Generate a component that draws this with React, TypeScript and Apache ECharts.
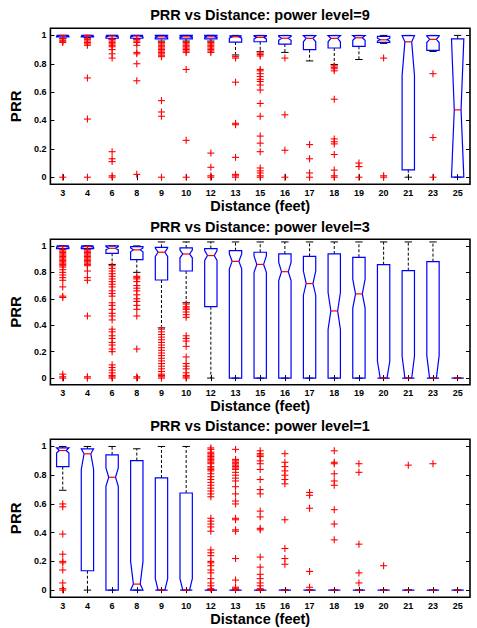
import React, { useEffect, useRef } from 'react';
import * as echarts from 'echarts';

const categories = ['3', '4', '6', '8', '9', '10', '12', '13', '15', '16', '17', '18', '19', '20', '21', '23', '25'];

const panelTitles = [
  'PRR vs Distance: power level=9',
  'PRR vs Distance: power level=3',
  'PRR vs Distance: power level=1',
];

// Box stats per category: [lowerWhisker, q1, notchLow, median, notchHigh, q3, upperWhisker]
const boxesPower9 = [
  [0.98, 0.99, 0.995, 1.0, 1.0, 1.0, 1.0],
  [0.985, 0.99, 0.995, 1.0, 1.0, 1.0, 1.0],
  [0.975, 0.98, 0.99, 0.995, 1.0, 1.0, 1.0],
  [0.975, 0.98, 0.99, 0.995, 1.0, 1.0, 1.0],
  [0.96, 0.975, 0.985, 0.99, 0.995, 1.0, 1.0],
  [0.96, 0.975, 0.985, 0.99, 0.995, 1.0, 1.0],
  [0.96, 0.975, 0.985, 0.99, 0.995, 1.0, 1.0],
  [0.862, 0.953, 0.98, 0.99, 0.996, 0.996, 1.0],
  [0.885, 0.955, 0.975, 0.986, 0.995, 0.998, 1.0],
  [0.88, 0.939, 0.965, 0.98, 0.993, 0.998, 1.0],
  [0.82, 0.899, 0.955, 0.979, 0.998, 0.998, 1.0],
  [0.795, 0.911, 0.955, 0.979, 0.998, 0.998, 1.0],
  [0.83, 0.923, 0.965, 0.983, 0.998, 0.998, 1.0],
  [0.944, 0.951, 0.96, 0.969, 0.98, 0.993, 1.0],
  [0.0, 0.052, 0.72, 0.955, 0.998, 0.998, 1.0],
  [0.887, 0.894, 0.95, 0.972, 0.995, 0.998, 1.0],
  [0.0, 0.0, 0.0, 0.475, 0.976, 0.976, 1.0],
];

const outliersPower9 = [
  [0.975, 0.965, 0.955, 0.95, 0],
  [0.98, 0.97, 0.96, 0.95, 0.94, 0.93, 0.7, 0.41, 0],
  [0.97, 0.96, 0.95, 0.94, 0.93, 0.92, 0.9, 0.87, 0.84, 0.18, 0.13, 0.11, 0.01, 0],
  [0.97, 0.96, 0.95, 0.93, 0.88, 0.87, 0.8, 0.68, 0.02],
  [0.95, 0.94, 0.93, 0.92, 0.91, 0.9, 0.89, 0.88, 0.87, 0.86, 0.85, 0.54, 0.46, 0.43, 0],
  [0.95, 0.94, 0.93, 0.92, 0.91, 0.9, 0.89, 0.88, 0.76, 0.26, 0],
  [0.95, 0.94, 0.93, 0.92, 0.91, 0.9, 0.89, 0.88, 0.17, 0.07, 0.01, 0],
  [0.85, 0.84, 0.67, 0.38, 0.37, 0.14, 0.02, 0.01, 0],
  [0.875, 0.865, 0.855, 0.76, 0.75, 0.73, 0.71, 0.69, 0.675, 0.65, 0.615, 0.52, 0.43, 0.29, 0.24, 0.18, 0.065, 0.045, 0.03, 0.01, 0],
  [0.84, 0.44, 0.19, 0],
  [0.23, 0.13, 0.03, 0],
  [0.785, 0.775, 0.765, 0.75, 0.55, 0.27, 0.25, 0.235, 0.16, 0.05, 0.01, 0],
  [0.1, 0.075, 0],
  [0.84, 0.01, 0],
  [],
  [0.73, 0.28, 0],
  [],
];

const boxesPower3 = [
  [0.975, 0.98, 0.99, 0.995, 1.0, 1.0, 1.0],
  [0.975, 0.98, 0.99, 0.995, 1.0, 1.0, 1.0],
  [0.86, 0.944, 0.97, 0.982, 0.995, 1.0, 1.0],
  [0.8, 0.896, 0.955, 0.97, 0.985, 0.995, 1.0],
  [0.38, 0.742, 0.92, 0.952, 0.984, 0.989, 1.03],
  [0.57, 0.81, 0.91, 0.939, 0.968, 0.985, 1.03],
  [0, 0.54, 0.89, 0.927, 0.965, 0.98, 1.03],
  [0, 0, 0.826, 0.883, 0.94, 0.964, 1.03],
  [0, 0, 0.8, 0.86, 0.925, 0.952, 1.03],
  [0, 0, 0.737, 0.805, 0.876, 0.939, 1.03],
  [0, 0, 0.627, 0.715, 0.81, 0.921, 1.03],
  [0, 0, 0.368, 0.508, 0.647, 0.939, 1.03],
  [0, 0, 0.53, 0.637, 0.749, 0.914, 1.03],
  [0, 0, 0, 0, 0.127, 0.858, 1.03],
  [0, 0, 0, 0, 0.165, 0.813, 1.03],
  [0, 0, 0, 0, 0.17, 0.881, 1.03],
  [0, 0, 0, 0, 0, 0, 0],
];

const outliersPower3 = [
  [0.97, 0.96, 0.95, 0.94, 0.93, 0.92, 0.91, 0.9, 0.89, 0.88, 0.87, 0.86, 0.85, 0.84, 0.82, 0.8, 0.78, 0.76, 0.74, 0.69, 0.62, 0.61, 0.03, 0.01, 0],
  [0.97, 0.96, 0.95, 0.94, 0.93, 0.92, 0.91, 0.9, 0.89, 0.88, 0.87, 0.86, 0.85, 0.81, 0.76, 0.74, 0.47, 0.01, 0],
  [0.85, 0.83, 0.81, 0.79, 0.77, 0.75, 0.73, 0.71, 0.69, 0.66, 0.64, 0.62, 0.57, 0.55, 0.52, 0.49, 0.47, 0.44, 0.37, 0.35, 0.32, 0.3, 0.27, 0.25, 0.22, 0.2, 0.1, 0.08, 0.06, 0.04, 0.02, 0.01, 0],
  [0.77, 0.76, 0.75, 0.73, 0.7, 0.68, 0.66, 0.63, 0.6, 0.58, 0.55, 0.52, 0.47, 0.22, 0.01, 0],
  [0.37, 0.35, 0.33, 0.31, 0.29, 0.27, 0.25, 0.23, 0.21, 0.19, 0.17, 0.15, 0.13, 0.11, 0.09, 0.07, 0.05, 0.03, 0.02, 0.01, 0],
  [0.56, 0.54, 0.53, 0.52, 0.5, 0.48, 0.46, 0.32, 0.3, 0.28, 0.24, 0.16, 0.11, 0.09, 0.07, 0.04, 0.02, 0.01, 0],
  [], [], [], [], [], [], [], [], [], [], [],
];

const boxesPower1 = [
  [0.695, 0.86, 0.955, 0.972, 0.99, 0.99, 1.0],
  [0, 0.135, 0.84, 0.949, 0.984, 0.984, 1.0],
  [0, 0, 0.723, 0.786, 0.851, 0.942, 1.0],
  [0, 0, 0, 0.042, 0.198, 0.902, 0.984],
  [0, 0, 0, 0, 0.08, 0.781, 1.0],
  [0, 0, 0, 0, 0.08, 0.676, 1.0],
  [0, 0, 0, 0, 0, 0, 0],
  [0, 0, 0, 0, 0, 0, 0],
  [0, 0, 0, 0, 0, 0, 0],
  [0, 0, 0, 0, 0, 0, 0],
  [0, 0, 0, 0, 0, 0, 0],
  [0, 0, 0, 0, 0, 0, 0],
  [0, 0, 0, 0, 0, 0, 0],
  [0, 0, 0, 0, 0, 0, 0],
  [0, 0, 0, 0, 0, 0, 0],
  [0, 0, 0, 0, 0, 0, 0],
  [0, 0, 0, 0, 0, 0, 0],
];

const outliersPower1 = [
  [0.6, 0.58, 0.39, 0.25, 0.2, 0.19, 0.14, 0.05, 0.01, 0],
  [], [], [], [], [],
  [0.99, 0.98, 0.96, 0.95, 0.94, 0.93, 0.92, 0.91, 0.9, 0.89, 0.88, 0.86, 0.85, 0.84, 0.83, 0.81, 0.79, 0.77, 0.75, 0.73, 0.71, 0.69, 0.67, 0.65, 0.5, 0.48, 0.46, 0.44, 0.41, 0.28, 0.26, 0.24, 0.2, 0.19, 0.17, 0.14, 0.12, 0.08, 0.05, 0.03, 0.01],
  [0.98, 0.91, 0.9, 0.89, 0.88, 0.87, 0.86, 0.85, 0.84, 0.82, 0.8, 0.78, 0.76, 0.72, 0.67, 0.62, 0.6, 0.5, 0.49, 0.42, 0.41, 0.22, 0.07, 0.02, 0.01],
  [0.97, 0.95, 0.94, 0.93, 0.9, 0.88, 0.84, 0.77, 0.7, 0.67, 0.55, 0.51, 0.43, 0.42, 0.23, 0.16, 0.11, 0.08, 0.05, 0.03, 0.01],
  [0.95, 0.89, 0.86, 0.83, 0.8, 0.77, 0.74, 0.49, 0.29, 0.22, 0.18],
  [0.68, 0.66, 0.57, 0.13, 0.02],
  [0.97, 0.89, 0.88, 0.81, 0.76, 0.73, 0.56, 0.46, 0.35],
  [0.88, 0.82, 0.32, 0.12, 0.05],
  [0.17],
  [0.87],
  [0.88],
  [],
];

const panelBoxes = [boxesPower9, boxesPower3, boxesPower1];
const panelOutliers = [outliersPower9, outliersPower3, outliersPower1];

const FONT = '"Liberation Sans", Arial, Helvetica, sans-serif';

// layout (pixels)
const gridLayout = [
  { top: 28.3, height: 156 },
  { top: 239.3, height: 145.4 },
  { top: 439.3, height: 158 },
];
const titleCenters = [15.3, 227.3, 426];
const GRID_LEFT = 50;
const GRID_WIDTH = 420;

function renderBox(params: any, api: any) {
  const i = api.value(0);
  const low = api.value(1);
  const q1 = api.value(2);
  const nlo = api.value(3);
  const med = api.value(4);
  const nhi = api.value(5);
  const q3 = api.value(6);
  const high = api.value(7);
  const band = api.size([1, 0])[0];
  const hw = band * 0.25;
  const nw = hw * 0.55;
  const cw = hw * 0.6;
  const x = api.coord([i, med])[0];
  const Y = (v: number) => api.coord([i, v])[1];
  const children: any[] = [];
  const dash = { stroke: '#000', lineWidth: 1, lineDash: [3, 2], fill: null };
  const solid = { stroke: '#000', lineWidth: 1, fill: null };
  if (high > q3) {
    children.push({ type: 'line', shape: { x1: x, y1: Y(q3), x2: x, y2: Y(high) }, style: dash });
  }
  if (low < q1) {
    children.push({ type: 'line', shape: { x1: x, y1: Y(q1), x2: x, y2: Y(low) }, style: dash });
  }
  children.push({ type: 'line', shape: { x1: x - cw, y1: Y(high), x2: x + cw, y2: Y(high) }, style: solid });
  children.push({ type: 'line', shape: { x1: x - cw, y1: Y(low), x2: x + cw, y2: Y(low) }, style: solid });
  const pts = [
    [x - hw, Y(q1)],
    [x - hw, Y(nlo)],
    [x - nw, Y(med)],
    [x - hw, Y(nhi)],
    [x - hw, Y(q3)],
    [x + hw, Y(q3)],
    [x + hw, Y(nhi)],
    [x + nw, Y(med)],
    [x + hw, Y(nlo)],
    [x + hw, Y(q1)],
  ];
  children.push({ type: 'polygon', shape: { points: pts }, style: { fill: 'none', stroke: '#0000ff', lineWidth: 1.2 } });
  children.push({ type: 'line', shape: { x1: x - nw, y1: Y(med), x2: x + nw, y2: Y(med) }, style: { stroke: '#ff0000', lineWidth: 1.2 } });
  return { type: 'group', children };
}

function renderCross(params: any, api: any) {
  const p = api.coord([api.value(0), api.value(1)]);
  const s = 3.5;
  const st = { stroke: '#ff0000', lineWidth: 1.1 };
  return {
    type: 'group',
    children: [
      { type: 'line', shape: { x1: p[0] - s, y1: p[1], x2: p[0] + s, y2: p[1] }, style: st },
      { type: 'line', shape: { x1: p[0], y1: p[1] - s, x2: p[0], y2: p[1] + s }, style: st },
    ],
  };
}

function buildOption() {
  const grid: any[] = [];
  const xAxis: any[] = [];
  const yAxis: any[] = [];
  const series: any[] = [];
  const graphic: any[] = [];
  const labelStyle = { fontFamily: FONT, fontWeight: 'bold', fontSize: 9, color: '#000' };
  const nameStyle = { fontFamily: FONT, fontWeight: 'bold', fontSize: 14.5, color: '#000' };

  for (let p = 0; p < 3; p++) {
    grid.push({
      left: GRID_LEFT,
      top: gridLayout[p].top,
      width: GRID_WIDTH,
      height: gridLayout[p].height,
      show: true,
      borderColor: '#000',
      borderWidth: 1.6,
      backgroundColor: 'transparent',
      containLabel: false,
    });
    xAxis.push({
      gridIndex: p,
      type: 'category',
      data: categories,
      position: 'bottom',
      axisLine: { show: false },
      axisTick: { show: true, inside: true, alignWithLabel: true, length: 3, lineStyle: { color: '#000' } },
      axisLabel: { ...labelStyle, margin: 4, interval: 0 },
      splitLine: { show: false },
      name: 'Distance (feet)',
      nameLocation: 'middle',
      nameGap: 14,
      nameTextStyle: nameStyle,
    });
    xAxis.push({
      gridIndex: p,
      type: 'category',
      data: categories,
      position: 'top',
      axisLine: { show: false },
      axisTick: { show: true, inside: true, alignWithLabel: true, length: 3, lineStyle: { color: '#000' } },
      axisLabel: { show: false },
      splitLine: { show: false },
    });
    yAxis.push({
      gridIndex: p,
      type: 'value',
      min: -0.05,
      max: 1.05,
      splitNumber: 5,
      position: 'left',
      axisLine: { show: false },
      axisTick: { show: true, inside: true, length: 4, lineStyle: { color: '#000' } },
      axisLabel: { ...labelStyle, margin: 4, showMinLabel: false, showMaxLabel: false },
      splitLine: { show: false },
      name: 'PRR',
      nameLocation: 'middle',
      nameGap: 20,
      nameRotate: 90,
      nameTextStyle: { ...nameStyle, fontSize: 15 },
    });
    yAxis.push({
      gridIndex: p,
      type: 'value',
      min: -0.05,
      max: 1.05,
      splitNumber: 5,
      position: 'right',
      axisLine: { show: false },
      axisTick: { show: true, inside: true, length: 4, lineStyle: { color: '#000' } },
      axisLabel: { show: false },
      splitLine: { show: false },
    });

    const boxData = panelBoxes[p].map((b, i) => [i, ...b]);
    series.push({
      type: 'custom',
      xAxisIndex: 2 * p,
      yAxisIndex: 2 * p,
      renderItem: renderBox,
      encode: { x: 0, y: [1, 2, 3, 4, 5, 6, 7] },
      data: boxData,
      z: 2,
    });
    const outData: number[][] = [];
    panelOutliers[p].forEach((list, i) => list.forEach((v) => outData.push([i, v])));
    series.push({
      type: 'custom',
      xAxisIndex: 2 * p,
      yAxisIndex: 2 * p,
      renderItem: renderCross,
      encode: { x: 0, y: 1 },
      data: outData,
      z: 3,
    });

    graphic.push({
      type: 'text',
      x: GRID_LEFT + GRID_WIDTH / 2,
      y: titleCenters[p],
      style: {
        text: panelTitles[p],
        fontFamily: FONT,
        fontWeight: 'bold',
        fontSize: 14.5,
        fill: '#000',
        align: 'center',
        verticalAlign: 'middle',
      },
    });
  }

  return {
    animation: false,
    backgroundColor: '#fff',
    grid,
    xAxis,
    yAxis,
    series,
    graphic,
  };
}

export default function App() {
  const ref = useRef<HTMLDivElement>(null);
  useEffect(() => {
    if (!ref.current) return;
    const chart = echarts.init(ref.current, undefined, { renderer: 'svg' });
    chart.setOption(buildOption() as any);
    return () => chart.dispose();
  }, []);
  return (
    <div
      ref={ref}
      style={{ position: 'fixed', left: 0, top: 0, width: 477, height: 628, background: '#fff' }}
    />
  );
}
